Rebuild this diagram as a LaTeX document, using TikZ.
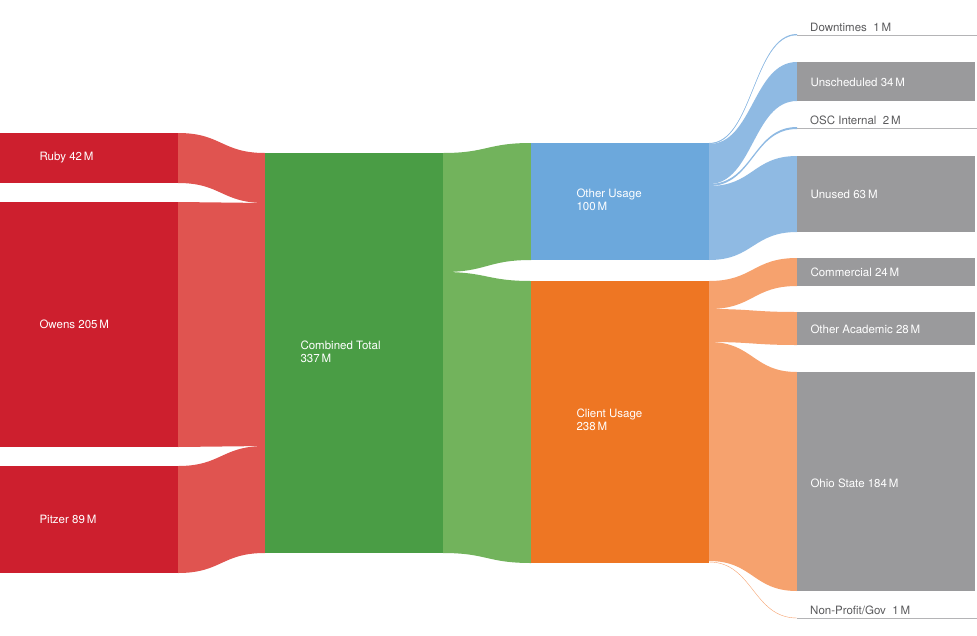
\documentclass[tikz,border=0pt]{standalone}
\usepackage{fontspec}
\setmainfont{TeX Gyre Heros}
\usetikzlibrary{positioning}
\definecolor{rubyred}{HTML}{CD1F2E}
\definecolor{redflow}{HTML}{E05450}
\definecolor{totgreen}{HTML}{4A9D45}
\definecolor{greenflow}{HTML}{72B35C}
\definecolor{usebluet}{HTML}{6CA8DC}
\definecolor{blueflow}{HTML}{8FBAE3}
\definecolor{useorange}{HTML}{EE7623}
\definecolor{orangeflow}{HTML}{F6A26E}
\definecolor{outgray}{HTML}{9A9A9C}
\definecolor{linegray}{HTML}{B4B4B6}
\definecolor{txtgray}{HTML}{5A5A5C}
% band between two vertical spans
\newcommand{\flowband}[7]{%
  \fill[#7] (#1,#2) .. controls ({(#1+#4)/2},#2) and ({(#1+#4)/2},#5) .. (#4,#5)
    -- (#4,#6) .. controls ({(#1+#4)/2},#6) and ({(#1+#4)/2},#3) .. (#1,#3) -- cycle;}
\begin{document}
\begin{tikzpicture}[x=1pt,y=-1pt,
	every node/.style={font=\fontsize{11.5}{13.5}\selectfont},
	boxtext/.style={text=white,align=left,anchor=west},
	thintext/.style={text=txtgray,anchor=south west,inner sep=1pt}]
		\useasboundingbox (0,0) rectangle (977,635);

		% flows
		\flowband{178}{133}{183}{265}{153}{203}{redflow}
		\flowband{178}{202}{447}{265}{203}{446}{redflow}
		\flowband{178}{466}{573}{265}{446}{553}{redflow}
		\flowband{443}{153}{272}{531}{143}{260}{greenflow}
		\flowband{443}{272}{553}{531}{281}{563}{greenflow}
		\flowband{709}{143}{144}{797}{34}{35}{blueflow}
		\draw[blueflow,thin] (709,143.5) .. controls (753,143.5) and (753,35) .. (797,35);
		\flowband{709}{144}{184}{797}{62}{101}{blueflow}
		\flowband{709}{184}{186}{797}{127}{129}{blueflow}
		\flowband{709}{186}{260}{797}{156}{232}{blueflow}
		\flowband{709}{281}{309}{797}{258}{286}{orangeflow}
		\flowband{709}{309}{342}{797}{312}{345}{orangeflow}
		\flowband{709}{342}{561}{797}{372}{591}{orangeflow}
		\draw[orangeflow,thin] (709,562) .. controls (753,562) and (753,618) .. (797,618);

		% nodes
		\fill[rubyred] (0,133) rectangle (178,183) node (ruby) [boxtext] at (36,158) {Ruby 42\,M};
		\fill[rubyred] (0,202) rectangle (178,447) node (owens) [boxtext] at (36,324) {Owens 205\,M};
		\fill[rubyred] (0,466) rectangle (178,573) node (pitzer) [boxtext] at (36,519) {Pitzer 89\,M};
		\fill[totgreen] (265,153) rectangle (443,553) node (total) [boxtext] at (297,352) {Combined Total\\337\,M};
		\fill[usebluet] (531,143) rectangle (709,260) node (other) [boxtext] at (573,200) {Other Usage\\100\,M};
		\fill[useorange] (531,281) rectangle (709,563) node (client) [boxtext] at (573,420) {Client Usage\\238\,M};

		\fill[outgray] (797,62) rectangle (975,101) node (unsched) [boxtext] at (807,82) {Unscheduled 34\,M};
		\fill[outgray] (797,156) rectangle (975,232) node (unused) [boxtext] at (807,194) {Unused 63\,M};
		\fill[outgray] (797,258) rectangle (975,286) node (comm) [boxtext] at (807,272) {Commercial 24\,M};
		\fill[outgray] (797,312) rectangle (975,345) node (acad) [boxtext] at (807,329) {Other Academic 28\,M};
		\fill[outgray] (797,372) rectangle (975,591) node (ohio) [boxtext] at (807,483) {Ohio State 184\,M};

		\draw[linegray] (797,35) -- (977,35);
		\draw[linegray] (797,128) -- (977,128);
		\draw[linegray] (797,618) -- (977,618);
		\node (down) [thintext] at (809,33) {Downtimes\ \ 1\,M};
		\node (osc) [thintext] at (809,126) {OSC Internal\ \ 2\,M};
		\node (nonprof) [thintext] at (809,616) {Non-Profit/Gov\ \ 1\,M};
\end{tikzpicture}
\end{document}
